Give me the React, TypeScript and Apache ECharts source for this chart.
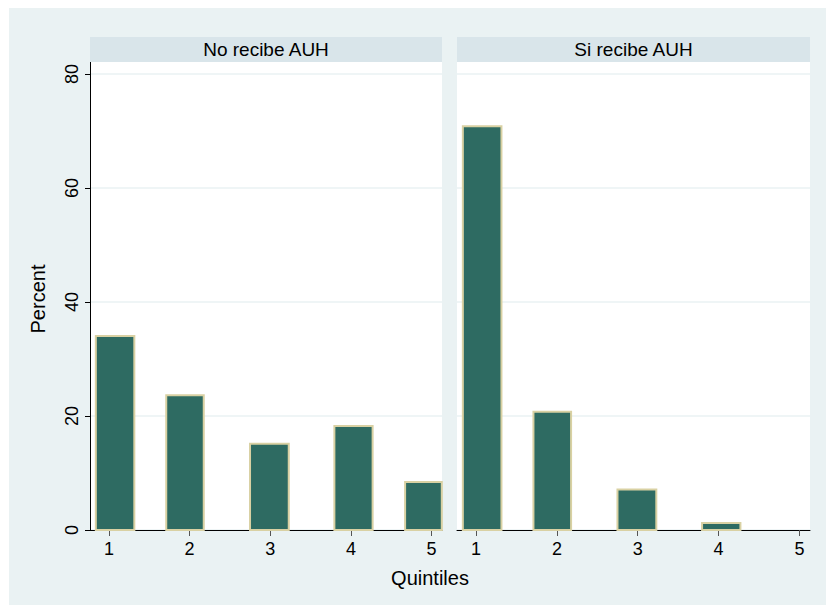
import React, { useEffect, useRef } from "react";
import * as echarts from "echarts";

// ---- data ----
const panels = ["No recibe AUH", "Si recibe AUH"];
const quintileTicks = [1, 2, 3, 4, 5];
const percentTicks = [0, 20, 40, 60, 80];
const binStart = [0.825, 1.698, 2.737, 3.783, 4.66];
const binEnd = [1.327, 2.188, 3.242, 4.282, 5.14];
const noRecibe = [34.2, 23.8, 15.3, 18.4, 8.6];
const siRecibe = [71.0, 20.9, 7.3, 1.4, 0];
const xTitle = "Quintiles";
const yTitle = "Percent";

const FONT = "'Liberation Sans', Arial, sans-serif";
const BG = "#eaf2f3";
const STRIP = "#d9e5ea";
const FILL = "#2e6b62";
const EDGE = "#d9d1a3";

const gridsPos = [
  { left: 81, top: 54, width: 352, height: 468 },
  { left: 448, top: 54, width: 353, height: 468 },
];

export default function App() {
  const ref = useRef<HTMLDivElement>(null);
  useEffect(() => {
    if (!ref.current) return;
    const chart = echarts.init(ref.current, undefined, { renderer: "svg" });
    const seriesData = [noRecibe, siRecibe].map((vals) =>
      vals.map((v, i) => [binStart[i], binEnd[i], v])
    );
    const renderItem = (params: any, api: any) => {
      const s = api.value(0);
      const e = api.value(1);
      const v = api.value(2);
      if (!(v > 0)) return null;
      const p0 = api.coord([s, v]);
      const p1 = api.coord([e, 0]);
      return {
        type: "rect",
        shape: {
          x: p0[0] + 1,
          y: p0[1] + 1,
          width: p1[0] - p0[0] - 2,
          height: p1[1] - p0[1] - 1,
        },
        style: { fill: FILL, stroke: EDGE, lineWidth: 2 },
      };
    };
    const option: any = {
      animation: false,
      backgroundColor: BG,
      textStyle: { fontFamily: FONT },
      grid: gridsPos.map((g) => ({
        ...g,
        show: true,
        backgroundColor: "#ffffff",
        borderWidth: 0,
        containLabel: false,
      })),
      xAxis: gridsPos.map((_, i) => ({
        type: "value",
        gridIndex: i,
        min: 0.765,
        max: 5.13,
        axisLine: { show: true, lineStyle: { color: "#000", width: 1 } },
        axisTick: {
          show: true,
          customValues: quintileTicks,
          length: 6,
          lineStyle: { color: "#555", width: 1 },
        },
        axisLabel: {
          customValues: quintileTicks,
          margin: 10,
          fontSize: 18,
          color: "#000",
          fontFamily: FONT,
        },
        splitLine: { show: false },
      })),
      yAxis: gridsPos.map((_, i) => ({
        type: "value",
        gridIndex: i,
        min: 0,
        max: 82.1,
        axisLine: { show: i === 0, lineStyle: { color: "#000", width: 1 } },
        axisTick: {
          show: i === 0,
          customValues: percentTicks,
          length: 5,
          lineStyle: { color: "#000", width: 1 },
        },
        axisLabel: {
          show: i === 0,
          customValues: percentTicks,
          rotate: 90,
          margin: 9,
          fontSize: 18,
          color: "#000",
          fontFamily: FONT,
        },
        splitLine: { show: true, lineStyle: { color: BG, width: 1.5 } },
      })),
      series: seriesData.map((d, i) => ({
        type: "custom",
        xAxisIndex: i,
        yAxisIndex: i,
        renderItem,
        clip: false,
        encode: { x: [0, 1], y: 2 },
        data: d,
      })),
      graphic: [
        ...gridsPos.map((g, i) => ({
          type: "rect",
          shape: { x: g.left, y: 29, width: g.width, height: 25 },
          style: { fill: STRIP },
          z: 10,
        })),
        ...gridsPos.map((g, i) => ({
          type: "text",
          x: g.left + g.width / 2,
          y: 41.5,
          style: {
            text: panels[i],
            fontSize: 19,
            fontFamily: FONT,
            fill: "#000",
            textAlign: "center",
            textVerticalAlign: "middle",
          },
          z: 11,
        })),
        {
          type: "text",
          x: 421,
          y: 570,
          style: {
            text: xTitle,
            fontSize: 20,
            fontFamily: FONT,
            fill: "#000",
            textAlign: "center",
            textVerticalAlign: "middle",
          },
        },
        {
          type: "text",
          x: 29,
          y: 291,
          rotation: Math.PI / 2,
          style: {
            text: yTitle,
            fontSize: 20,
            fontFamily: FONT,
            fill: "#000",
            textAlign: "center",
            textVerticalAlign: "middle",
          },
        },
      ],
    };
    chart.setOption(option);
    return () => chart.dispose();
  }, []);
  return (
    <div
      ref={ref}
      style={{ position: "absolute", left: 9, top: 8, width: 817, height: 597 }}
    />
  );
}
